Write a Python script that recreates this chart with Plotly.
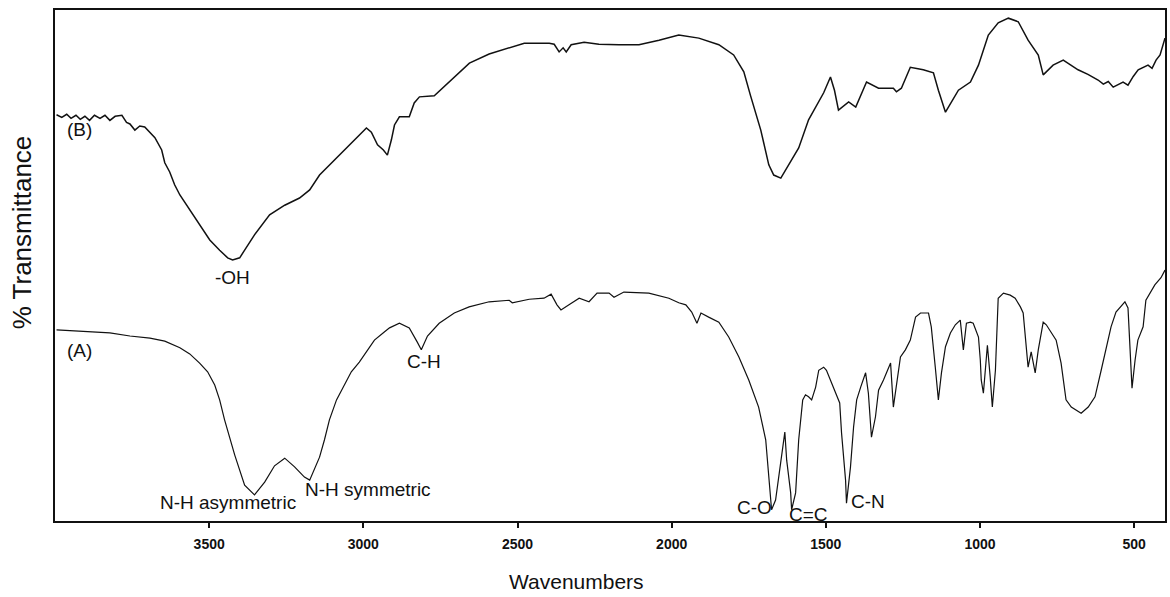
import plotly.graph_objects as go

# FTIR spectrum (A): wavenumber (cm-1) and % transmittance
wn_a = [3995, 3919, 3822, 3757, 3692, 3644, 3595, 3563, 3531, 3505,
        3482, 3466, 3450, 3417, 3385, 3353, 3320, 3288, 3255, 3223,
        3191, 3174, 3142, 3126, 3110, 3087, 3061, 3039, 3013, 2964,
        2932, 2915, 2883, 2851, 2825, 2812, 2792, 2754, 2705,
        2657, 2592, 2527, 2517, 2462, 2414, 2391, 2372, 2359, 2333,
        2300, 2268, 2242, 2203, 2187, 2155, 2074, 2009, 1977, 1954,
        1935, 1918, 1905, 1880, 1847, 1815, 1782, 1750, 1718, 1695,
        1685, 1679, 1676, 1663, 1646, 1633, 1627, 1614, 1611, 1598,
        1588, 1575, 1566, 1556, 1546, 1533, 1523, 1507, 1498, 1485,
        1468, 1455, 1449, 1436, 1433, 1420, 1410, 1400, 1387, 1371,
        1362, 1355, 1352, 1339, 1329, 1313, 1303, 1290, 1281, 1274,
        1258, 1242, 1226, 1209, 1193, 1167, 1158, 1145, 1135, 1125,
        1112, 1096, 1080, 1064, 1054, 1044, 1031, 1022, 1005, 999,
        996, 989, 983, 976, 967, 960, 950, 941, 924, 902,
        886, 869, 860, 850, 844, 834, 821, 811, 795, 785,
        769, 753, 737, 721, 704, 672, 649, 627, 607, 591,
        575, 559, 543, 530, 520, 513, 507, 497, 488, 471,
        462, 433, 413, 400]
t_a = [37.4, 37.2, 36.8, 36.2, 35.8, 35.2, 33.9, 32.7, 30.9, 29.2,
       26.6, 23.7, 19.8, 12.9, 7.0, 5.1, 7.6, 10.8, 12.3, 10.6,
       8.6, 8.0, 12.5, 15.9, 19.8, 23.7, 26.6, 29.2, 31.1, 35.4,
       37.0, 37.8, 38.7, 37.8, 35.0, 33.5, 36.2, 38.7, 40.7,
       41.9, 42.9, 43.2, 42.7, 43.4, 43.6, 44.4, 42.3, 41.3, 42.3,
       43.6, 42.9, 44.6, 44.6, 43.8, 44.8, 44.6, 43.6, 42.7, 42.3,
       40.9, 38.7, 40.7, 39.9, 38.9, 36.0, 32.1, 27.6, 22.3, 15.9,
       9.4, 5.5, 2.2, 4.1, 11.9, 17.4, 11.9, 5.5, 2.2, 5.5,
       15.9, 23.7, 24.7, 24.3, 23.7, 26.2, 29.5, 30.1, 29.5, 27.6,
       25.0, 23.1, 17.2, 8.0, 3.5, 10.6, 18.4, 23.7, 26.2, 29.0,
       25.0, 19.8, 16.4, 20.4, 25.6, 27.6, 29.0, 30.9, 22.3, 25.0,
       32.1, 33.5, 35.4, 39.9, 40.7, 40.7, 38.0, 30.1, 23.7, 29.0,
       34.1, 36.8, 38.4, 39.3, 33.5, 38.7, 38.9, 38.7, 36.0, 31.5,
       27.6, 25.0, 29.5, 34.4, 28.2, 22.3, 29.5, 43.6, 44.6, 44.2,
       43.6, 41.9, 40.7, 34.8, 30.1, 33.1, 29.0, 33.5, 38.9, 38.4,
       37.0, 35.4, 30.9, 23.7, 22.3, 21.1, 22.3, 24.3, 29.5, 33.5,
       38.0, 40.9, 41.9, 42.9, 41.7, 32.1, 26.0, 31.5, 35.4, 38.0,
       43.2, 46.2, 47.6, 49.1]

# FTIR spectrum (B)
wn_b = [3995, 3978, 3962, 3948, 3932, 3918, 3903, 3888, 3872, 3854,
        3838, 3822, 3805, 3783, 3768, 3757, 3741, 3725, 3709, 3692,
        3676, 3654, 3644, 3628, 3612, 3595, 3563, 3531, 3498, 3466,
        3440, 3424, 3401, 3385, 3353, 3304, 3255, 3207, 3174, 3142,
        3094, 3045, 2990, 2974, 2954, 2935, 2922, 2909, 2899, 2883,
        2851, 2835, 2818, 2770, 2721, 2656, 2592, 2527, 2478, 2397,
        2381, 2365, 2352, 2342, 2326, 2284, 2236, 2171, 2106, 2041,
        1977, 1912, 1847, 1799, 1766, 1744, 1711, 1685, 1669, 1646,
        1620, 1588, 1556, 1530, 1507, 1485, 1472, 1459, 1426, 1403,
        1368, 1329, 1281, 1271, 1255, 1226, 1184, 1151, 1135, 1112,
        1070, 1031, 1005, 973, 941, 908, 892, 876, 844, 811,
        795, 763, 730, 682, 650, 617, 600, 584, 568, 552,
        536, 520, 503, 487, 471, 455, 442, 429,
        416, 400]
t_b = [79.5, 79.0, 79.6, 78.8, 79.4, 78.6, 79.2, 78.4, 79.4, 78.8,
       79.4, 78.4, 79.2, 79.4, 78.0, 77.7, 76.5, 77.3, 77.1, 76.1,
       75.0, 72.6, 70.1, 68.3, 65.8, 63.8, 60.9, 57.9, 55.0, 53.0,
       51.5, 51.1, 51.5, 53.0, 56.0, 59.9, 61.8, 63.2, 64.8, 67.7,
       70.6, 73.6, 76.9, 76.1, 73.6, 72.6, 71.6, 74.6, 77.5, 79.1,
       79.1, 81.8, 83.0, 83.2, 85.9, 89.6, 91.4, 92.6, 93.5, 93.5,
       93.3, 91.8, 92.6, 91.8, 93.2, 93.7, 93.3, 93.2, 93.2, 94.1,
       95.1, 94.5, 93.2, 91.2, 87.9, 83.2, 76.5, 69.7, 67.7, 67.1,
       69.7, 73.0, 78.5, 81.4, 83.8, 86.9, 84.3, 80.4, 82.0, 81.0,
       85.9, 84.7, 84.7, 84.0, 84.7, 88.8, 88.3, 87.7, 84.3, 80.0,
       84.3, 85.9, 89.2, 95.1, 97.5, 98.4, 98.0, 97.7, 94.1, 91.2,
       87.3, 89.2, 90.2, 88.3, 87.4, 86.3, 85.5, 86.0, 84.9, 85.4,
       85.9, 85.3, 87.0, 88.3, 88.7, 89.2, 88.6, 90.2,
       91.2, 94.5]

# Band assignments: label, wavenumber, transmittance
band_labels = ["(B)", "-OH", "(A)", "N-H asymmetric", "N-H symmetric",
               "C-H", "C-O", "C=C", "C-N"]
band_wn = [3922, 3424, 3919, 3440, 2984, 2802, 1731, 1556, 1362]
band_t = [76.7, 47.7, 33.3, 3.7, 6.1, 31.3, 2.7, 1.2, 3.9]

tick_vals = [3500, 3000, 2500, 2000, 1500, 1000, 500]
tick_text = ["3500", "3000", "2500", "2000", "1500", "1000", "500"]

INK = "#111111"
SANS = "Liberation Sans, Arial"

fig = go.Figure()
fig.add_trace(go.Scatter(x=wn_b, y=t_b, mode="lines",
                         line=dict(color=INK, width=1.5),
                         hoverinfo="skip", showlegend=False))
fig.add_trace(go.Scatter(x=wn_a, y=t_a, mode="lines",
                         line=dict(color=INK, width=1.2),
                         hoverinfo="skip", showlegend=False))

for lab, xw, yt in zip(band_labels, band_wn, band_t):
    fig.add_annotation(x=xw, y=yt, xref="x", yref="y", text=lab,
                       showarrow=False, xanchor="center", yanchor="middle",
                       font=dict(family=SANS, size=19, color=INK))

# axis titles
fig.add_annotation(x=-0.0297, y=0.565, xref="paper", yref="paper",
                   text="% Transmittance", textangle=-90, showarrow=False,
                   xanchor="center", yanchor="middle",
                   font=dict(family=SANS, size=26, color=INK))
fig.add_annotation(x=0.470, y=-0.119, xref="paper", yref="paper",
                   text="Wavenumbers", showarrow=False,
                   xanchor="center", yanchor="middle",
                   font=dict(family=SANS, size=21, color=INK))

fig.update_xaxes(range=[4000, 400], tickvals=tick_vals, ticktext=tick_text,
                 ticks="outside", ticklen=5, tickwidth=1.5,
                 tickcolor=INK, ticklabelstandoff=4,
                 tickfont=dict(family=SANS, size=14, color=INK,
                               weight="bold"),
                 showline=True, linecolor=INK, linewidth=2,
                 mirror=True, showgrid=False, zeroline=False)
fig.update_yaxes(range=[0, 100], showticklabels=False, ticks="",
                 showline=True, linecolor=INK, linewidth=2,
                 mirror=True, showgrid=False, zeroline=False)

fig.update_layout(width=1170, height=597,
                  margin=dict(l=55, r=3, t=10, b=76),
                  paper_bgcolor="white", plot_bgcolor="white")

fig.write_html("out.html")
